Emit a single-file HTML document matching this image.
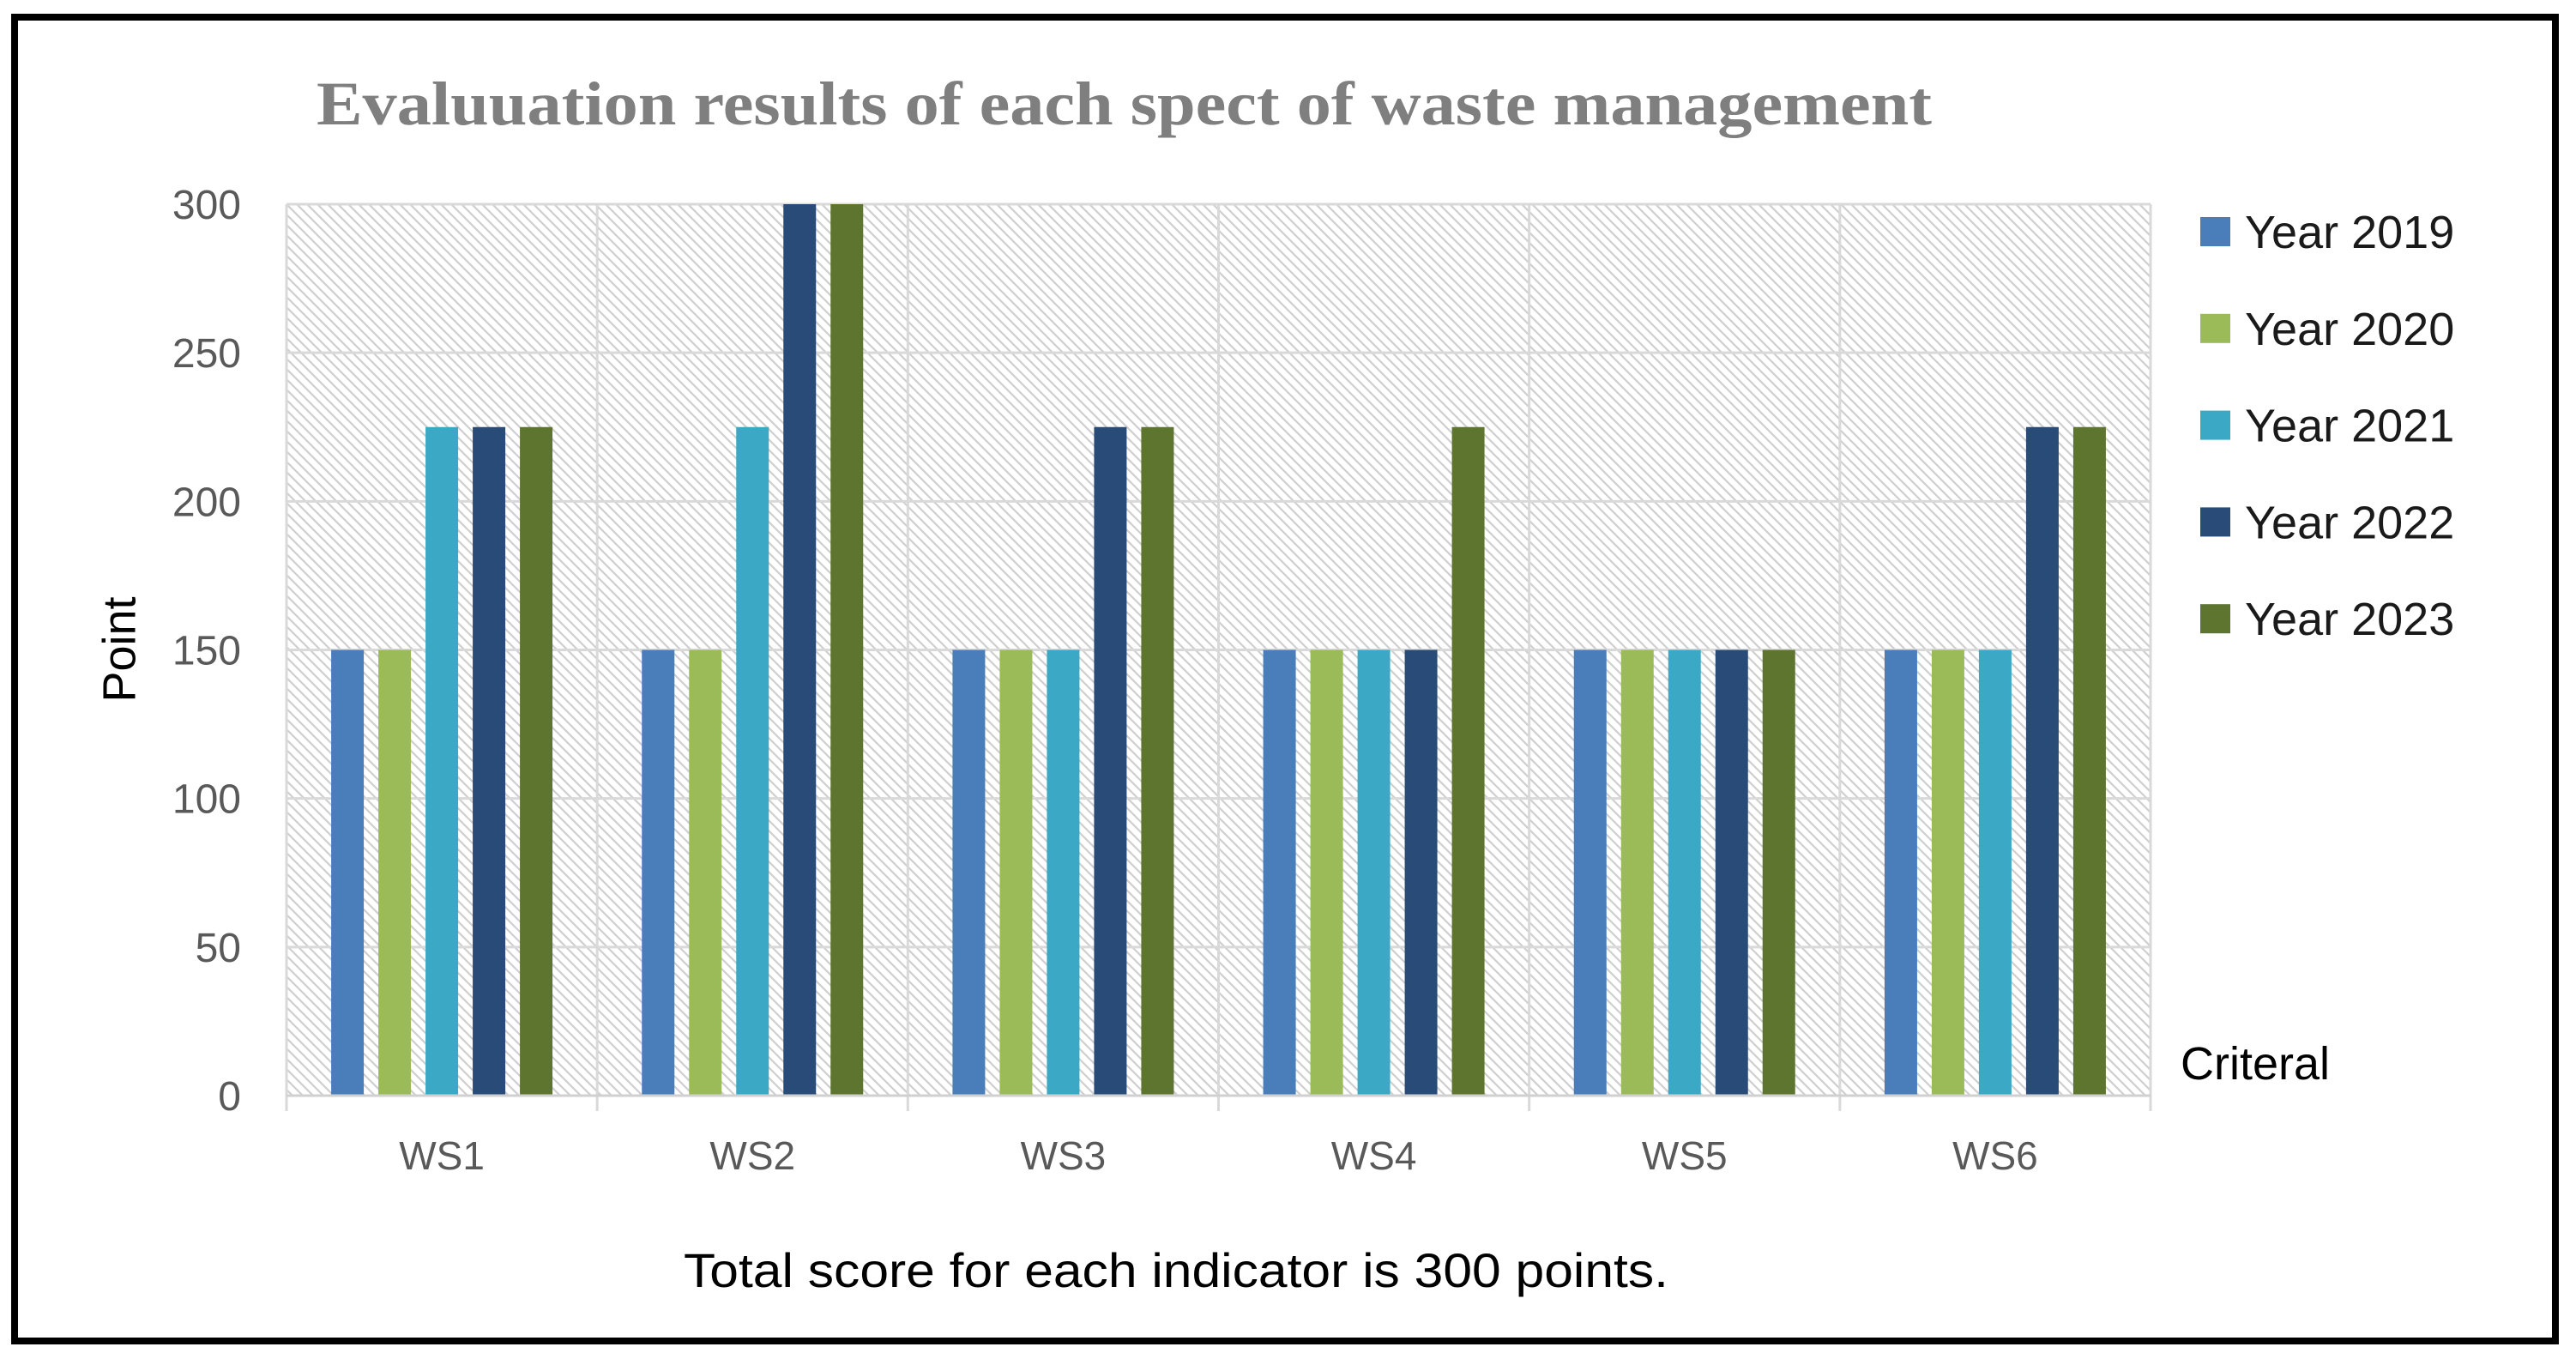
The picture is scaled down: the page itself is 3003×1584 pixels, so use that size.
<!DOCTYPE html>
<html><head><meta charset="utf-8"><style>
html,body{margin:0;padding:0;background:#fff;}
svg{display:block;}
text{font-family:"Liberation Sans",sans-serif;}
</style></head><body>
<svg id="chart" width="3003" height="1584" viewBox="0 0 3003 1584">
<defs>
<pattern id="hatch" width="12" height="12" patternUnits="userSpaceOnUse">
<rect width="12" height="12" fill="#fff"/>
<path d="M0,0 L12,12 M-6,6 L6,18 M6,-6 L18,6" stroke="#cfcfcf" stroke-width="2.2"/>
</pattern>
</defs>
<rect x="17" y="20" width="2962" height="1543" fill="#fff" stroke="#000" stroke-width="8"/>
<text x="369" y="145" font-family="Liberation Serif, serif" font-weight="bold" font-size="72" fill="#7f7f7f" textLength="1883" lengthAdjust="spacingAndGlyphs" style="font-family:'Liberation Serif',serif">Evaluuation results of each spect of waste management</text>
<rect x="334" y="238" width="2173" height="1039" fill="url(#hatch)"/>
<g id="grid"></g>
<g id="bars"></g>
<g id="axes"></g>
<text x="143" y="757" font-size="54" fill="#000" text-anchor="middle" transform="rotate(-90 143 757)" dominant-baseline="middle">Point</text>
<text x="2542" y="1258" font-size="54" fill="#000">Criteral</text>
<text x="1371" y="1500" font-size="56" fill="#000" text-anchor="middle" textLength="1148" lengthAdjust="spacingAndGlyphs">Total score for each indicator is 300 points.</text>
<g id="legend"></g>
</svg>
<script>
const categories = ["WS1","WS2","WS3","WS4","WS5","WS6"];
const seriesNames = ["Year 2019","Year 2020","Year 2021","Year 2022","Year 2023"];
const y2019 = [150,150,150,150,150,150];
const y2020 = [150,150,150,150,150,150];
const y2021 = [225,225,150,150,150,150];
const y2022 = [225,300,225,150,150,225];
const y2023 = [225,300,225,225,150,225];
const yTicks = [0,50,100,150,200,250,300];
const colors = ["#4a7ebb","#9bbb59","#3ba9c6","#284c77","#5e7530"];
const series = [y2019,y2020,y2021,y2022,y2023];

const NS="http://www.w3.org/2000/svg";
const L=334,R=2507,T=238,B=1277,yMax=300;
const yS=v=>B-(v/yMax)*(B-T);
const cw=(R-L)/categories.length;
const xCat=i=>L+i*cw;
function mk(tag,attrs,parent){const e=document.createElementNS(NS,tag);for(const k in attrs)e.setAttribute(k,attrs[k]);parent.appendChild(e);return e;}
const grid=document.getElementById('grid'),bars=document.getElementById('bars'),axes=document.getElementById('axes'),legend=document.getElementById('legend');
yTicks.forEach(t=>{
  const ln=mk('line',{x1:L,x2:R,y1:yS(t),y2:yS(t),stroke:'#d9d9d9','stroke-width':3},grid);
  
  
  const tx=mk('text',{x:281,y:yS(t)+17,'font-size':48,fill:'#595959','text-anchor':'end'},axes);
  tx.textContent=t;
  
  
});
for(let i=0;i<=categories.length;i++){
  const ln=mk('line',{x1:xCat(i),x2:xCat(i),y1:T,y2:B+18,stroke:'#d9d9d9','stroke-width':3},grid);
  
  
}
const bw=38,step=55,off=(cw-(step*4+bw))/2;
categories.forEach((c,i)=>{
  series.forEach((s,j)=>{
    const r=mk('rect',{x:xCat(i)+off+j*step,y:yS(s[i]),width:bw,height:B-yS(s[i]),fill:colors[j]},bars);
    
    
  });
  const tx=mk('text',{x:xCat(i)+cw/2,y:1363,'font-size':46,fill:'#595959','text-anchor':'middle'},axes);
  tx.textContent=c;
  
  
});
const ax=mk('line',{x1:L,x2:R,y1:B,y2:B,stroke:'#d0d0d0','stroke-width':3},axes);


seriesNames.forEach((n,j)=>{
  const cy=270+j*112.8;
  const g=mk('g',{},legend);
  
  
  mk('rect',{x:2565,y:cy-17,width:35,height:34,fill:colors[j]},g);
  const tx=mk('text',{x:2617,y:cy+19,'font-size':54,fill:'#1a1a1a'},g);
  tx.textContent=n;
});
</script>
</body></html>
